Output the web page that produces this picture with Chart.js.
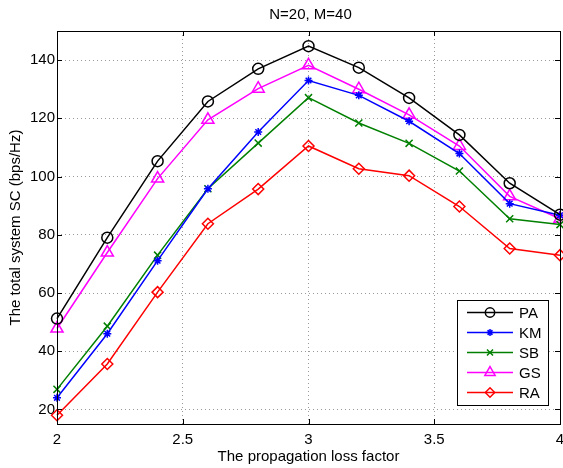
<!DOCTYPE html>
<html><head><meta charset="utf-8">
<script src="https://cdn.jsdelivr.net/npm/chart.js@4/dist/chart.umd.min.js"></script>
<style>html,body{margin:0;padding:0;background:#fff;overflow:hidden}#c{display:block}</style>
</head><body>
<canvas id="c" width="563" height="468"></canvas>
<script>
const xValues = [2, 2.2, 2.4, 2.6, 2.8, 3, 3.2, 3.4, 3.6, 3.8, 4];
const seriesNames = ['PA', 'KM', 'SB', 'GS', 'RA'];
const PA = [51.2, 79, 105.3, 125.8, 137, 144.8, 137.4, 127, 114.3, 97.7, 86.9];
const KM = [24, 46, 71.1, 95.8, 115.3, 133, 127.9, 119, 107.9, 90.7, 86.7];
const SB = [26.9, 48.6, 73, 95.8, 111.5, 127.1, 118.4, 111.4, 101.9, 85.5, 83.5];
const GS = [47.8, 73.9, 99.3, 119.5, 130.2, 138.2, 130, 121.2, 110.5, 93.2, 85.5];
const RA = [18, 35.6, 60.3, 83.8, 95.7, 110.5, 102.7, 100.3, 89.7, 75.3, 73];
const xTicks = [2, 2.5, 3, 3.5, 4];
const yTicks = [20, 40, 60, 80, 100, 120, 140];
const titleText = 'N=20, M=40';

const values = [PA, KM, SB, GS, RA];
const colors = ['#000000', '#0000ff', '#008000', '#ff00ff', '#ff0000'];
const styles = ['circle', 'star', 'crossRot', 'triangle', 'rectRot'];
const radii = [5.5, 4, 5, 7, 5.5];

const FONT = "'Liberation Sans', Arial, sans-serif";

const datasets = seriesNames.map((n, i) => ({
  label: n,
  data: xValues.map((x, j) => ({x: x, y: values[i][j]})),
  borderColor: colors[i],
  backgroundColor: 'rgba(0,0,0,0)',
  borderWidth: 1.5,
  pointStyle: styles[i],
  pointRadius: radii[i],
  pointBorderColor: colors[i],
  pointBackgroundColor: 'rgba(0,0,0,0)',
  pointBorderWidth: 1.5,
  tension: 0,
  clip: false
}));

const framePlugin = {
  id: 'frame',
  afterDraw(chart) {
    const ctx = chart.ctx, a = chart.chartArea;
    const xs = chart.scales.x, ys = chart.scales.y;
    ctx.save();
    // title
    ctx.fillStyle = '#000';
    ctx.font = '15px ' + FONT;
    ctx.textAlign = 'center';
    ctx.textBaseline = 'alphabetic';
    ctx.fillText(titleText, (a.left + a.right) / 2 + 2, 18.5);

    // x tick labels
    xTicks.forEach(v => {
      ctx.fillText(String(v), xs.getPixelForValue(v), a.bottom + 19.5);
    });

    ctx.strokeStyle = '#000';
    ctx.lineWidth = 1;
    ctx.strokeRect(Math.round(a.left) + 0.5, Math.round(a.top) + 0.5,
      Math.round(a.right - a.left), Math.round(a.bottom - a.top));
    const tl = 5;
    ctx.beginPath();
    xTicks.forEach(v => {
      const px = Math.round(xs.getPixelForValue(v)) + 0.5;
      ctx.moveTo(px, a.bottom); ctx.lineTo(px, a.bottom - tl);
      ctx.moveTo(px, a.top); ctx.lineTo(px, a.top + tl);
    });
    yTicks.forEach(v => {
      const py = Math.round(ys.getPixelForValue(v)) + 0.5;
      ctx.moveTo(a.left, py); ctx.lineTo(a.left + tl, py);
      ctx.moveTo(a.right, py); ctx.lineTo(a.right - tl, py);
    });
    ctx.stroke();

    // legend box
    const bx = 457, by = 300, bw = 91, bh = 105;
    ctx.fillStyle = '#fff';
    ctx.fillRect(bx, by, bw, bh);
    ctx.lineWidth = 1;
    ctx.strokeStyle = '#000';
    ctx.strokeRect(bx + 0.5, by + 0.5, bw, bh);
    ctx.font = '15px ' + FONT;
    ctx.textAlign = 'left';
    ctx.textBaseline = 'middle';
    chart.data.datasets.forEach((ds, i) => {
      const cy = by + 12.5 + i * 20;
      ctx.strokeStyle = ds.borderColor;
      ctx.lineWidth = 1.5;
      ctx.beginPath(); ctx.moveTo(bx + 10, cy); ctx.lineTo(bx + 56, cy); ctx.stroke();
      ctx.fillStyle = 'rgba(0,0,0,0)';
      Chart.helpers.drawPoint(ctx, {pointStyle: ds.pointStyle, radius: ds.pointRadius * 0.85, borderWidth: 1.5, rotation: 0}, bx + 33, cy);
      ctx.fillStyle = '#000';
      ctx.fillText(ds.label, bx + 62, cy + 1);
    });
    ctx.restore();
  }
};

new Chart(document.getElementById('c'), {
  type: 'line',
  data: {datasets},
  plugins: [framePlugin],
  options: {
    responsive: false,
    animation: false,
    layout: {autoPadding: false, padding: {left: 0, right: 3, top: 31, bottom: 0}},
    plugins: {
      legend: {display: false},
      tooltip: {enabled: false},
      title: {display: false}
    },
    scales: {
      x: {
        type: 'linear',
        min: 2, max: 4,
        afterBuildTicks(s) { s.ticks = xTicks.map(v => ({value: v})); },
        afterFit(s) { s.height = 44; },
        ticks: {display: false},
        grid: {color: '#9a9a9a', lineWidth: 1, drawTicks: false},
        border: {display: false, dash: [1, 3]},
        title: {display: true, text: 'The propagation loss factor', color: '#000',
          font: {family: FONT, size: 15}, padding: {top: 0, bottom: 2}}
      },
      y: {
        type: 'linear',
        min: 15, max: 150,
        afterBuildTicks(s) { s.ticks = yTicks.map(v => ({value: v})); },
        afterFit(s) { s.width = 57; s.paddingTop = 0; s.paddingBottom = 0; },
        ticks: {color: '#000', font: {family: FONT, size: 15}, padding: 2},
        grid: {color: '#9a9a9a', lineWidth: 1, drawTicks: false},
        border: {display: false, dash: [1, 3]},
        title: {display: true, text: 'The total system SC (bps/Hz)', color: '#000',
          font: {family: FONT, size: 15}, padding: {top: 7, bottom: 0}}
      }
    }
  }
});
</script>
</body></html>
